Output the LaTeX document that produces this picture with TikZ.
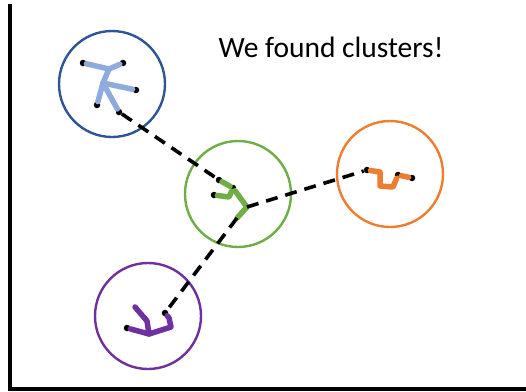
\documentclass[tikz,border=0pt]{standalone}
\usepackage{fontspec}
\setmainfont{Carlito}

\definecolor{bluering}{HTML}{2F5597}
\definecolor{blueedge}{HTML}{8FAADC}
\definecolor{greenc}{HTML}{70AD47}
\definecolor{orangec}{HTML}{ED7D31}
\definecolor{purplec}{HTML}{7030A0}

\begin{document}
\begin{tikzpicture}[x=1pt, y=-1pt,
  ring/.style = {circle, draw, line width=2.4pt, minimum size=106pt, inner sep=0pt},
  dot/.style = {circle, fill=black, inner sep=0pt, minimum size=6.5pt},
  edge/.style = {line width=5.5pt, line cap=round, line join=round},
  link/.style = {line width=3.6pt, dash pattern=on 12pt off 8pt}
  ]
  \useasboundingbox (0,0) rectangle (526,391);

  % axes
  \draw[line width=3.5pt] (10,4) -- (10,389) -- (526,389);

  \node (title) at (331,47) {\fontsize{29.5}{35}\selectfont We found clusters!};

  % cluster rings
  \node[ring, draw=bluering] (blue) at (112,84) {};
  \node[ring, draw=greenc] (green) at (238,194) {};
  \node[ring, draw=orangec] (orange) at (390,174) {};
  \node[ring, draw=purplec] (purple) at (148,316) {};

  % blue cluster
  \node[dot] (b1) at (83,63) {};
  \node[dot] (b2) at (123,63) {};
  \node[dot] (b3) at (136,90) {};
  \node[dot] (b4) at (97,105) {};
  \node[dot] (b5) at (119,112) {};
  \coordinate (bh1) at (109,69);
  \coordinate (bh2) at (103,83);
  \draw[edge, blueedge] (b1) -- (bh1) -- (b2);
  \draw[edge, blueedge] (bh1) -- (bh2) -- (b3);
  \draw[edge, blueedge] (bh2) -- (b5);
  \draw[edge, blueedge] (b4) -- (bh2);

  % green cluster
  \node[dot] (g1) at (219,180) {};
  \node[dot] (g2) at (233,188) {};
  \node[dot] (g4) at (214,195) {};
  \coordinate (g3) at (229,197);
  \coordinate (g5) at (247,207);
  \coordinate (g6) at (237,218);
  \draw[edge, greenc] (g1) -- (g2) -- (g5) -- (g6);
  \draw[edge, greenc] (g2) -- (g3) -- (g4);

  % orange cluster
  \node[dot] (o1) at (367,170) {};
  \node[dot] (o5) at (398,175) {};
  \node[dot] (o6) at (412,178) {};
  \coordinate (o2) at (380,172);
  \coordinate (o3) at (380,186);
  \coordinate (o4) at (393,187);
  \draw[edge, orangec] (o1) -- (o2) -- (o3) -- (o4) -- (o5) -- (o6);

  % purple cluster
  \node[dot] (p1) at (127,328) {};
  \node[dot] (p7) at (165,313) {};
  \coordinate (p2) at (135,307);
  \coordinate (p3) at (147,321);
  \coordinate (p4) at (149,334);
  \coordinate (p5) at (171,327);
  \coordinate (p6) at (169,318);
  \draw[edge, purplec] (p2) -- (p3) -- (p4);
  \draw[edge, purplec] (p1) -- (p4) -- (p5) -- (p6) -- (p7);

  % links between clusters
  \draw[link] (b5) -- (g1);
  \draw[link] (g5) -- (o1);
  \draw[link] (g6) -- (p7);
\end{tikzpicture}
\end{document}
